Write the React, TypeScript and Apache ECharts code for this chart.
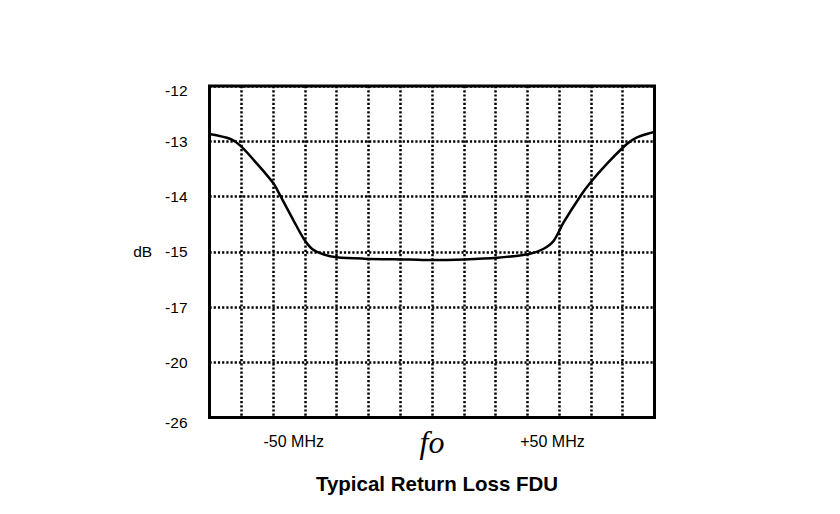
import React, { useEffect, useRef } from "react";
import * as echarts from "echarts";

// Y axis tick labels (dB), bottom to top, evenly spaced on the chart
const yTickLabels = [-26, -20, -17, -15, -14, -13, -12];

// X axis: 14 equal grid divisions, labels placed at these grid positions
const xLabelPositions = [2.65, 7, 10.79];
const xLabelTexts = ["-50 MHz", "fo", "+50 MHz"];

// Return loss curve (x in grid divisions, y in dB)
const freqSteps = [
  0, 0.66, 0.97, 1.5, 2.02, 2.23, 2.65, 2.97, 3.23, 3.6, 4.0, 4.85, 6.3, 7, 8, 9.05,
  10.05, 10.5, 10.83, 11.14, 11.67, 11.98, 12.5, 13.13, 13.45, 13.94, 14,
];
const returnLossDb = [
  -12.87, -12.96, -13.08, -13.41, -13.77, -13.99, -14.44, -14.77, -14.95, -15.1, -15.2,
  -15.25, -15.28, -15.3, -15.28, -15.22, -15.08, -14.95, -14.8, -14.47, -13.99, -13.75,
  -13.41, -13.05, -12.93, -12.84, -12.83,
];

const chartTitle = "Typical Return Loss FDU";

function dbToAxis(db: number): number {
  for (let i = 0; i < yTickLabels.length - 1; i++) {
    const a = yTickLabels[i];
    const b = yTickLabels[i + 1];
    if (db >= a && db <= b) return i + (db - a) / (b - a);
  }
  return db < yTickLabels[0] ? 0 : yTickLabels.length - 1;
}

const FONT = "'Liberation Sans', Arial, sans-serif";

export default function App() {
  const ref = useRef<HTMLDivElement>(null);

  useEffect(() => {
    if (!ref.current) return;
    const chart = echarts.init(ref.current, undefined, { renderer: "svg" });
    const lineData = freqSteps.map((x, i) => [x, dbToAxis(returnLossDb[i])]);

    chart.setOption({
      animation: false,
      backgroundColor: "#ffffff",
      title: {
        text: chartTitle,
        left: 432,
        textAlign: "center",
        top: 468,
        textStyle: { fontFamily: FONT, fontSize: 20.5, fontWeight: "bold", color: "#000" },
      },
      grid: {
        left: 209.5,
        right: 185.5,
        top: 86,
        bottom: 96.5,
        show: true,
        borderColor: "#000",
        borderWidth: 3,
        backgroundColor: "transparent",
        containLabel: false,
        outerBoundsMode: "none",
      },
      xAxis: {
        type: "value",
        min: 0,
        max: 14,
        interval: 1,
        axisLine: { show: false },
        axisTick: { show: false },
        splitLine: {
          show: true,
          lineStyle: { color: "#000", width: 2.5, type: [2.2, 2] },
        },
        axisLabel: {
          customValues: xLabelPositions,
          margin: 13,
          color: "#000",
          fontFamily: FONT,
          fontSize: 16,
          formatter: (v: number) => {
            let best = 0;
            xLabelPositions.forEach((p, i) => {
              if (Math.abs(p - v) < Math.abs(xLabelPositions[best] - v)) best = i;
            });
            const t = xLabelTexts[best];
            return t === "fo" ? `{fo|${t}}` : `{mhz|${t}}`;
          },
          rich: {
            mhz: { fontFamily: FONT, fontSize: 16, color: "#000", lineHeight: 22 },
            fo: {
              fontFamily: "'Liberation Serif', 'Times New Roman', serif",
              fontStyle: "italic",
              fontSize: 32,
              color: "#000",
              lineHeight: 22,
            },
          },
        },
      },
      yAxis: {
        type: "value",
        min: 0,
        max: 6,
        interval: 1,
        axisLine: { show: false },
        axisTick: { show: false },
        splitLine: {
          show: true,
          lineStyle: { color: "#000", width: 2.5, type: [2.2, 2] },
        },
        axisLabel: {
          margin: 22,
          color: "#000",
          fontFamily: FONT,
          fontSize: 15.5,
          formatter: (v: number) => {
            const i = Math.round(v);
            const lab = String(yTickLabels[i]);
            if (i === 3) return `{n|dB   ${lab}}`;
            if (i === 6) return `{top|${lab}}`;
            if (i === 0) return `{bot|${lab}}`;
            return `{n|${lab}}`;
          },
          rich: {
            n: { fontFamily: FONT, fontSize: 15.5, color: "#000" },
            top: { fontFamily: FONT, fontSize: 15.5, color: "#000", padding: [9, 0, 0, 0] },
            bot: { fontFamily: FONT, fontSize: 15.5, color: "#000", padding: [9, 0, 0, 0] },
          },
        },
      },
      series: [
        {
          type: "line",
          data: lineData,
          smooth: 0.3,
          showSymbol: false,
          symbol: "none",
          lineStyle: { color: "#000", width: 2.5 },
          z: 5,
        },
      ],
    });

    return () => chart.dispose();
  }, []);

  return (
    <div
      ref={ref}
      style={{ position: "fixed", left: 0, top: 0, width: 840, height: 514, background: "#fff" }}
    />
  );
}
